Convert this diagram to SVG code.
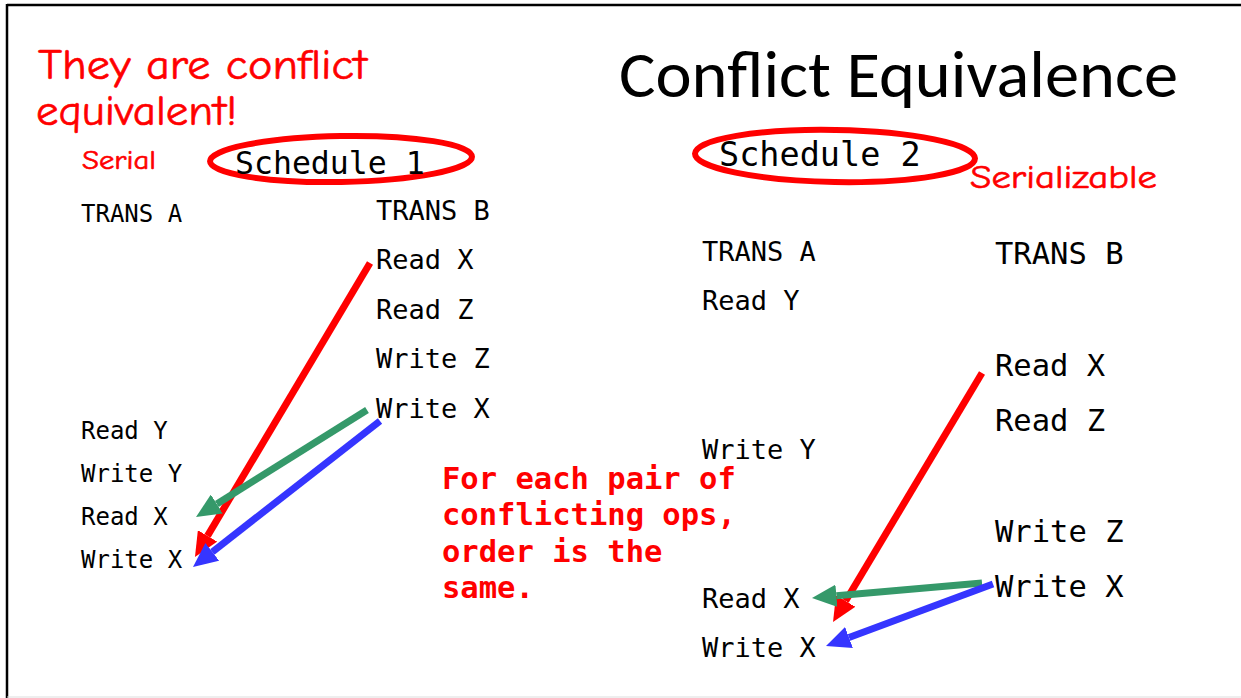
<svg xmlns="http://www.w3.org/2000/svg" width="1241" height="698" viewBox="0 0 1241 698">
<style>
.mono{font-family:"DejaVu Sans Mono","Liberation Mono",monospace;fill:#000}
.hand{font-family:"Comic Neue","Lato","DejaVu Sans",sans-serif;fill:#ff0000;stroke:#ff0000;stroke-width:0.6}
.note{font-family:"DejaVu Sans Mono","Liberation Mono",monospace;font-weight:bold;fill:#ff0000;font-size:30.5px}
.title{font-family:"Carlito","Lato","Open Sans",sans-serif;font-size:66px;fill:#000}
.ring{fill:none;stroke:#ff0000;stroke-width:6}
.arr{fill:none;stroke-width:7;stroke-linecap:butt}
</style>
<defs>
<marker id="hr" viewBox="0 0 3.5 3.2" markerWidth="3.5" markerHeight="3.2" refX="0" refY="1.6" orient="auto"><path d="M0,0 L3.5,1.6 L0,3.2 z" fill="#ff0000"/></marker>
<marker id="hg" viewBox="0 0 3.5 3.2" markerWidth="3.5" markerHeight="3.2" refX="0" refY="1.6" orient="auto"><path d="M0,0 L3.5,1.6 L0,3.2 z" fill="#35996a"/></marker>
<marker id="hb" viewBox="0 0 3.5 3.2" markerWidth="3.5" markerHeight="3.2" refX="0" refY="1.6" orient="auto"><path d="M0,0 L3.5,1.6 L0,3.2 z" fill="#3535ff"/></marker>
</defs>
<rect width="1241" height="698" fill="#fff"/>
<g id="frame">
<line x1="7" y1="5" x2="1241" y2="5" stroke="#000" stroke-width="2.5"/>
<line x1="7" y1="4" x2="7" y2="698" stroke="#000" stroke-width="2.5"/>
<line x1="7" y1="697" x2="1241" y2="697" stroke="#ddd" stroke-width="1"/>
</g>
<g id="title"><text class="title" x="619" y="97" textLength="559" lengthAdjust="spacingAndGlyphs">Conflict Equivalence</text></g>
<g id="remark">
<text class="hand" x="38" y="79" font-size="42" textLength="329" lengthAdjust="spacingAndGlyphs">They are conflict</text>
<text class="hand" x="36" y="125" font-size="42" textLength="201" lengthAdjust="spacingAndGlyphs">equivalent!</text>
</g>
<g id="serial"><text class="hand" x="82" y="169" font-size="26" textLength="74" lengthAdjust="spacingAndGlyphs">Serial</text></g>
<g id="serializable"><text class="hand" x="970" y="188" font-size="32" textLength="187" lengthAdjust="spacingAndGlyphs">Serializable</text></g>
<g id="schedule1">
<ellipse class="ring" cx="341" cy="159" rx="131" ry="23" transform="rotate(-1 341 159)"/>
<text class="mono" x="235" y="174" font-size="31.5">Schedule 1</text>
</g>
<g id="schedule2">
<ellipse class="ring" cx="835" cy="156" rx="140" ry="26" transform="rotate(1 835 156)"/>
<text class="mono" x="719" y="166" font-size="33.5">Schedule 2</text>
</g>
<g id="s1-transA" class="mono" font-size="24">
<text x="81" y="222">TRANS A</text>
<text x="81" y="439">Read Y</text>
<text x="81" y="482">Write Y</text>
<text x="81" y="525">Read X</text>
<text x="81" y="568">Write X</text>
</g>
<g id="s1-transB" class="mono" font-size="27">
<text x="376" y="220">TRANS B</text>
<text x="376" y="269">Read X</text>
<text x="376" y="319">Read Z</text>
<text x="376" y="368">Write Z</text>
<text x="376" y="418">Write X</text>
</g>
<g id="s2-transA" class="mono" font-size="27">
<text x="702" y="261">TRANS A</text>
<text x="702" y="310">Read Y</text>
<text x="702" y="459">Write Y</text>
<text x="702" y="608">Read X</text>
<text x="702" y="657">Write X</text>
</g>
<g id="s2-transB" class="mono" font-size="30.5">
<text x="995" y="264">TRANS B</text>
<text x="995" y="376">Read X</text>
<text x="995" y="431">Read Z</text>
<text x="995" y="542">Write Z</text>
<text x="995" y="597">Write X</text>
</g>
<g id="note">
<text class="note" x="442" y="489">For each pair of</text>
<text class="note" x="442" y="525">conflicting ops,</text>
<text class="note" x="442" y="562">order is the</text>
<text class="note" x="442" y="598">same.</text>
</g>
<g id="connectors">
<line class="arr" stroke="#ff0000" x1="370" y1="263" x2="207.5" y2="535.9" marker-end="url(#hr)"/>
<line class="arr" stroke="#35996a" x1="367" y1="410" x2="216.8" y2="504" marker-end="url(#hg)"/>
<line class="arr" stroke="#3535ff" x1="380" y1="421" x2="212.3" y2="551.9" marker-end="url(#hb)"/>
<line class="arr" stroke="#ff0000" x1="982" y1="373" x2="845.6" y2="601" marker-end="url(#hr)"/>
<line class="arr" stroke="#35996a" x1="982" y1="583" x2="836.4" y2="595.8" marker-end="url(#hg)"/>
<line class="arr" stroke="#3535ff" x1="993" y1="584" x2="849" y2="637.5" marker-end="url(#hb)"/>
</g>
</svg>
